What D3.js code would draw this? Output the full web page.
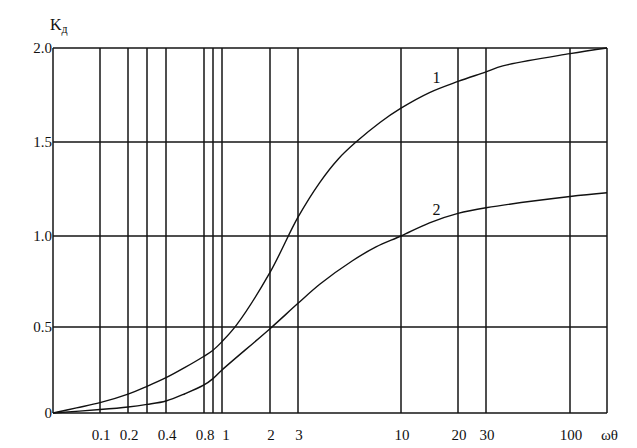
<!DOCTYPE html>
<html><head><meta charset="utf-8">
<script src="https://cdn.jsdelivr.net/npm/d3@7/dist/d3.min.js"></script>
<style>body{margin:0;background:#fff}svg{display:block}</style>
</head><body><svg id="c" width="637" height="448" style="font-family:'Liberation Serif','Times New Roman',Tinos,'DejaVu Serif',serif"></svg>
<script>
// grid / tick values
const xGrid = [0.1, 0.2, 0.3, 0.4, 0.8, 0.9, 1, 2, 3, 10, 20, 30, 100];
const xTickLabels = [0.1, 0.2, 0.4, 0.8, 1, 2, 3, 10, 20, 30, 100];
const yTicks = [0, 0.5, 1.0, 1.5, 2.0];
const yTickLabels = ["0", "0.5", "1.0", "1.5", "2.0"];
// curve data (ωθ, Kд)
const curve1X = [0, 0.05, 0.1, 0.2, 0.3, 0.4, 0.6, 0.8, 0.9, 1, 1.3, 2, 3, 4.5, 5.74, 6.9, 8.57, 10, 15, 20, 30, 44, 100, 200];
const curve1Y = [0, 0.03, 0.06, 0.11, 0.155, 0.205, 0.265, 0.33, 0.365, 0.415, 0.51, 0.80, 1.10, 1.287, 1.41, 1.497, 1.604, 1.68, 1.763, 1.822, 1.873, 1.905, 1.97, 2.0];
const curve2X = [0, 0.1, 0.2, 0.3, 0.4, 0.6, 0.8, 0.9, 1, 2, 3, 4.5, 6.7, 8.3, 10, 15, 20, 30, 100, 200];
const curve2Y = [0, 0.02, 0.035, 0.05, 0.07, 0.112, 0.163, 0.20, 0.25, 0.49, 0.63, 0.736, 0.864, 0.94, 1.0, 1.07, 1.12, 1.15, 1.21, 1.23];
const curveNames = ["1", "2"];

const svg = d3.select("#c");
// non-uniform (piecewise) abscissa as in the original nomogram
const x = d3.scaleLinear()
  .domain([0, 0.1, 0.2, 0.3, 0.4, 0.8, 0.9, 1, 2, 3, 10, 20, 30, 100, 200])
  .range([53, 100, 128, 147, 166, 204, 213, 222, 270, 298, 401, 458, 486, 570, 607]);
const y = d3.scaleLinear().domain([0, 0.5, 1, 1.5, 2]).range([413, 327, 236, 142, 48]);

const g = svg.append("g");
const stroke = "#151515";
// vertical grid
g.selectAll("line.vx").data([0, ...xGrid, 200]).join("line")
  .attr("x1", d => x(d)).attr("x2", d => x(d))
  .attr("y1", y(0)).attr("y2", y(2))
  .attr("stroke", stroke).attr("stroke-width", 1.5);
// horizontal grid
g.selectAll("line.hy").data(yTicks).join("line")
  .attr("x1", x(0)).attr("x2", x(200))
  .attr("y1", d => y(d)).attr("y2", d => y(d))
  .attr("stroke", stroke).attr("stroke-width", 1.5);

const T = (sel) => sel.attr("fill", "#111");
// y labels
T(g.selectAll("text.yl").data(yTicks).join("text"))
  .attr("x", x(0) - 1).attr("y", d => y(d) + 5)
  .attr("text-anchor", "end").attr("font-size", 15)
  .text((d, i) => yTickLabels[i]);
// x labels
T(g.selectAll("text.xl").data(xTickLabels).join("text"))
  .attr("x", d => x(d) + (d === 1 ? 4 : 1)).attr("y", 440)
  .attr("text-anchor", "middle").attr("font-size", 15)
  .text(d => String(d));
// axis titles
const kt = T(g.append("text")).attr("x", 50).attr("y", 30).attr("font-size", 16);
kt.append("tspan").text("K");
kt.append("tspan").attr("font-size", 12).attr("dy", 3).text("д");
T(g.append("text")).attr("x", 601).attr("y", 440).attr("font-size", 15).text("ωθ");

// curves
const line = d3.line().curve(d3.curveCatmullRom.alpha(0.5));
[[curve1X, curve1Y], [curve2X, curve2Y]].forEach(([xs, ys]) => {
  g.append("path")
    .attr("d", line(xs.map((v, i) => [x(v), y(ys[i])])))
    .attr("fill", "none").attr("stroke", "#111").attr("stroke-width", 1.4);
});
// curve labels
T(g.append("text")).attr("x", x(15)).attr("y", y(1.815)).attr("dx", 3).attr("font-size", 16).text(curveNames[0]);
T(g.append("text")).attr("x", x(15)).attr("y", y(1.11)).attr("dx", 3).attr("font-size", 16).text(curveNames[1]);
</script></body></html>
